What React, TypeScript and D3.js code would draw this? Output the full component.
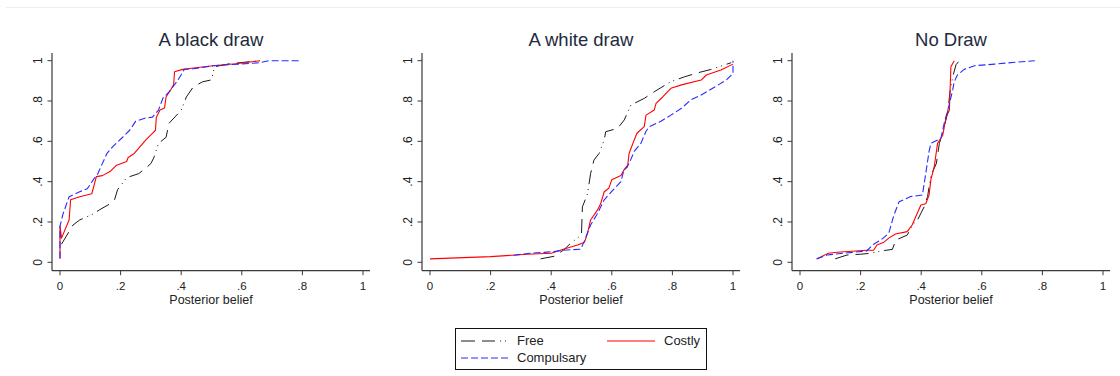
import React from "react";
import * as d3 from "d3";

type Pt = [number, number];

const panelTitles = ["A black draw", "A white draw", "No Draw"];
const seriesNames = ["Free", "Costly", "Compulsary"];
const xTicks = [0, 0.2, 0.4, 0.6, 0.8, 1];
const yTicks = [0, 0.2, 0.4, 0.6, 0.8, 1];
const tickLabels = ["0", ".2", ".4", ".6", ".8", "1"];
const xAxisTitle = "Posterior belief";

// Panel 1: A black draw
const blackFree: Pt[] = [
  [0.005, 0.09], [0.043, 0.185], [0.065, 0.21], [0.11, 0.24], [0.13, 0.26], [0.165, 0.29],
  [0.18, 0.31], [0.19, 0.36], [0.22, 0.42], [0.26, 0.44], [0.285, 0.47], [0.3, 0.49],
  [0.31, 0.52], [0.325, 0.59], [0.35, 0.62], [0.36, 0.69], [0.385, 0.73], [0.4, 0.755],
  [0.417, 0.82], [0.44, 0.87], [0.47, 0.895], [0.5, 0.905], [0.51, 0.97], [0.56, 0.985],
  [0.66, 1.0],
];
const blackCostly: Pt[] = [
  [0, 0.017], [0, 0.18], [0.005, 0.12], [0.03, 0.21], [0.035, 0.31], [0.065, 0.325],
  [0.105, 0.34], [0.12, 0.425], [0.14, 0.43], [0.165, 0.45], [0.185, 0.48], [0.22, 0.5],
  [0.225, 0.52], [0.245, 0.54], [0.265, 0.575], [0.285, 0.61], [0.305, 0.64], [0.315, 0.655],
  [0.318, 0.72], [0.33, 0.755], [0.345, 0.765], [0.35, 0.82], [0.365, 0.855], [0.375, 0.88],
  [0.378, 0.945], [0.405, 0.957], [0.42, 0.96], [0.505, 0.975], [0.58, 0.985], [0.66, 1.0],
];
const blackCompulsary: Pt[] = [
  [0, 0.02], [0, 0.18], [0.01, 0.24], [0.03, 0.325], [0.065, 0.35], [0.09, 0.365],
  [0.11, 0.41], [0.125, 0.44], [0.155, 0.54], [0.175, 0.575], [0.21, 0.625], [0.23, 0.655],
  [0.25, 0.7], [0.28, 0.715], [0.305, 0.72], [0.325, 0.755], [0.34, 0.815], [0.36, 0.845],
  [0.385, 0.895], [0.4, 0.93], [0.41, 0.957], [0.44, 0.96], [0.505, 0.975], [0.59, 0.983],
  [0.66, 0.99], [0.69, 1.0], [0.797, 1.0],
];

// Panel 2: A white draw
const whiteFree: Pt[] = [
  [0.365, 0.017], [0.41, 0.03], [0.44, 0.06], [0.464, 0.094], [0.492, 0.127], [0.5, 0.145],
  [0.503, 0.275], [0.52, 0.34], [0.53, 0.44], [0.541, 0.507], [0.558, 0.54], [0.575, 0.607],
  [0.58, 0.648], [0.619, 0.664], [0.641, 0.706], [0.663, 0.78], [0.707, 0.813], [0.74, 0.846],
  [0.795, 0.896], [0.84, 0.92], [0.884, 0.94], [0.928, 0.957], [0.994, 0.99],
];
const whiteCostly: Pt[] = [
  [0, 0.017], [0.2, 0.028], [0.32, 0.04], [0.4, 0.045], [0.44, 0.065], [0.487, 0.086],
  [0.51, 0.1], [0.52, 0.145], [0.53, 0.21], [0.553, 0.26], [0.563, 0.29], [0.575, 0.35],
  [0.59, 0.367], [0.6, 0.41], [0.63, 0.43], [0.64, 0.458], [0.652, 0.474], [0.657, 0.54],
  [0.674, 0.607], [0.683, 0.64], [0.707, 0.673], [0.713, 0.73], [0.74, 0.755], [0.746, 0.788],
  [0.768, 0.82], [0.795, 0.863], [0.83, 0.88], [0.895, 0.904], [0.912, 0.929], [0.96, 0.954],
  [1.0, 0.983],
];
const whiteCompulsary: Pt[] = [
  [0.276, 0.035], [0.33, 0.045], [0.41, 0.053], [0.44, 0.06], [0.497, 0.065], [0.508, 0.1],
  [0.53, 0.185], [0.55, 0.235], [0.575, 0.31], [0.602, 0.355], [0.63, 0.4], [0.64, 0.458],
  [0.657, 0.49], [0.674, 0.55], [0.696, 0.59], [0.713, 0.65], [0.724, 0.673], [0.762, 0.7],
  [0.795, 0.73], [0.83, 0.764], [0.86, 0.805], [0.895, 0.83], [0.94, 0.87], [0.978, 0.904],
  [1.0, 0.937], [1.0, 1.0],
];

// Panel 3: No Draw
const noFree: Pt[] = [
  [0.116, 0.017], [0.155, 0.036], [0.2, 0.04], [0.233, 0.045], [0.266, 0.056], [0.305, 0.064],
  [0.316, 0.11], [0.354, 0.135], [0.371, 0.185], [0.388, 0.21], [0.41, 0.276], [0.421, 0.326],
  [0.432, 0.43], [0.45, 0.49], [0.46, 0.59], [0.471, 0.64], [0.487, 0.74], [0.496, 0.855],
  [0.504, 0.92], [0.515, 0.98], [0.526, 1.0],
];
const noCostly: Pt[] = [
  [0.055, 0.017], [0.094, 0.045], [0.122, 0.05], [0.22, 0.06], [0.243, 0.06], [0.254, 0.086],
  [0.277, 0.1], [0.293, 0.12], [0.315, 0.14], [0.354, 0.152], [0.37, 0.185], [0.382, 0.226],
  [0.399, 0.284], [0.415, 0.29], [0.426, 0.334], [0.432, 0.41], [0.443, 0.474], [0.454, 0.59],
  [0.471, 0.63], [0.482, 0.72], [0.493, 0.755], [0.498, 0.97], [0.509, 1.0],
];
const noCompulsary: Pt[] = [
  [0.055, 0.017], [0.089, 0.036], [0.144, 0.045], [0.22, 0.056], [0.243, 0.09], [0.266, 0.11],
  [0.293, 0.144], [0.31, 0.235], [0.327, 0.3], [0.365, 0.326], [0.404, 0.334], [0.415, 0.44],
  [0.426, 0.55], [0.432, 0.59], [0.465, 0.615], [0.476, 0.69], [0.492, 0.78], [0.504, 0.855],
  [0.509, 0.896], [0.52, 0.93], [0.542, 0.957], [0.576, 0.975], [0.642, 0.983], [0.709, 0.992],
  [0.775, 1.0],
];

const panelData: Pt[][][] = [
  [blackFree, blackCostly, blackCompulsary],
  [whiteFree, whiteCostly, whiteCompulsary],
  [noFree, noCostly, noCompulsary],
];

const seriesStyle = [
  { stroke: "#1a1a1a", dash: "14,7,13,5,1,4,1,5", width: 1 },
  { stroke: "#ff0000", dash: "", width: 1.1 },
  { stroke: "#2a2aff", dash: "7,3", width: 1.1 },
];

const FONT = "'Liberation Sans', Arial, Helvetica, sans-serif";

function Panel({ index }: { index: number }) {
  const left = 52 + index * 370;
  const x = d3.scaleLinear().domain([0, 1]).range([left + 8, left + 311]);
  const y = d3.scaleLinear().domain([0, 1]).range([262.3, 60.7]);
  const axisY = 270.7;
  const line = d3
    .line<Pt>()
    .x((d) => x(d[0]))
    .y((d) => y(d[1]));
  return (
    <g>
      <text
        x={left + 159}
        y={46}
        textAnchor="middle"
        fontSize={18.5}
        fill="#1e2b3c"
        fontFamily={FONT}
      >
        {panelTitles[index]}
      </text>
      {/* axes */}
      <line x1={left} x2={left} y1={53} y2={axisY} stroke="#3a3a3a" strokeWidth={1.2} />
      <line x1={left} x2={left + 318} y1={axisY} y2={axisY} stroke="#3a3a3a" strokeWidth={1.2} />
      {yTicks.map((t, i) => (
        <g key={"y" + i}>
          <line x1={left - 4.5} x2={left} y1={y(t)} y2={y(t)} stroke="#3a3a3a" strokeWidth={1} />
          <text
            transform={`translate(${left - 10},${y(t)}) rotate(-90)`}
            textAnchor="middle"
            fontSize={12}
            fill="#222"
            fontFamily={FONT}
          >
            {tickLabels[i]}
          </text>
        </g>
      ))}
      {xTicks.map((t, i) => (
        <g key={"x" + i}>
          <line x1={x(t)} x2={x(t)} y1={axisY} y2={axisY + 4.5} stroke="#3a3a3a" strokeWidth={1} />
          <text x={x(t)} y={289.5} textAnchor="middle" fontSize={11.5} fill="#222" fontFamily={FONT}>
            {tickLabels[i]}
          </text>
        </g>
      ))}
      <text
        x={left + 159}
        y={304}
        textAnchor="middle"
        fontSize={12.5}
        fill="#222"
        fontFamily={FONT}
      >
        {xAxisTitle}
      </text>
      {panelData[index].map((s, si) => (
        <path
          key={si}
          d={line(s) || ""}
          fill="none"
          stroke={seriesStyle[si].stroke}
          strokeWidth={seriesStyle[si].width}
          strokeDasharray={seriesStyle[si].dash || undefined}
          strokeLinejoin="round"
        />
      ))}
    </g>
  );
}

function Legend() {
  const items = [
    { name: seriesNames[0], x1: 461, x2: 508, ly: 341, tx: 517, ty: 345 },
    { name: seriesNames[1], x1: 607, x2: 655, ly: 341, tx: 664, ty: 345 },
    { name: seriesNames[2], x1: 461, x2: 509, ly: 358, tx: 517, ty: 362 },
  ];
  return (
    <g>
      <rect x={455.5} y={328.5} width={251} height={41} fill="#fff" stroke="#111" strokeWidth={1} />
      {items.map((it, i) => (
        <g key={i}>
          <line
            x1={it.x1}
            x2={it.x2}
            y1={it.ly}
            y2={it.ly}
            stroke={seriesStyle[i].stroke}
            strokeWidth={seriesStyle[i].width}
            strokeDasharray={seriesStyle[i].dash || undefined}
          />
          <text x={it.tx} y={it.ty} fontSize={13} fill="#222" fontFamily={FONT}>
            {it.name}
          </text>
        </g>
      ))}
    </g>
  );
}

export default function App() {
  return (
    <svg
      width={1120}
      height={376}
      style={{ position: "fixed", left: 0, top: 0, background: "#fff" }}
    >
      <rect x={0} y={0} width={1120} height={376} fill="#fff" />
      <line x1={6} x2={1120} y1={7.5} y2={7.5} stroke="#eeeeee" strokeWidth={1} />
      {[0, 1, 2].map((i) => (
        <Panel key={i} index={i} />
      ))}
      <Legend />
    </svg>
  );
}
